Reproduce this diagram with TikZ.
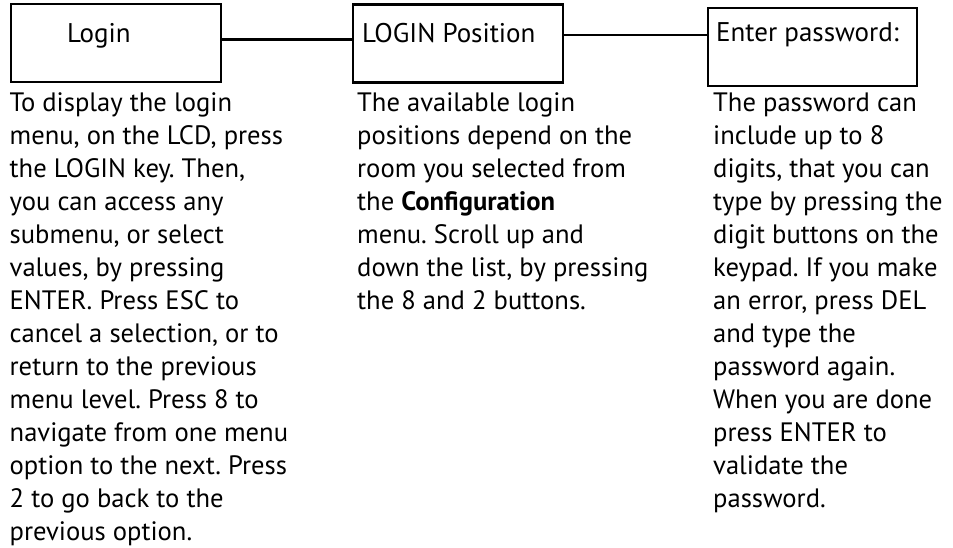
\documentclass[tikz,border=0pt]{standalone}
\usepackage{fontspec}
\setmainfont{PT Sans}
\frenchspacing
\usetikzlibrary{positioning}

\begin{document}
\begin{tikzpicture}[x=1pt, y=-1pt,
    menubox/.style={draw, line width=2.6pt, minimum width=210pt,
        minimum height=78pt, inner sep=0pt},
    boxtitle/.style={anchor=base west, inner sep=0pt,
        font=\fontsize{27}{33}\selectfont},
    helptext/.style={anchor=base west, align=left, inner sep=0pt,
        font=\fontsize{26.6}{33}\selectfont}]
    \useasboundingbox (0,0) rectangle (953,548);

    % the three menu screens
    \node[menubox] (login) at (116,43) {};
    \node[menubox] (position) at (458,43.5) {};
    \node[menubox, minimum width=209pt] (password) at (812.5,47) {};

    \node[boxtitle] (logintitle) at (67,43) {Login};
    \node[boxtitle] (positiontitle) at (362,43) {LOGIN Position};
    \node[boxtitle] (passwordtitle) at (716,42) {Enter password:};

    % links between the screens
    \draw[line width=2.6pt] (login.east) ++(0,-3.5) coordinate (l1)
        -- (l1 -| position.west);
    \draw[line width=2pt] (position.east) ++(0,-8.5) coordinate (l2)
        -- (l2 -| password.west);

    % help text under each screen (placed by the baseline of the last line)
    \node[helptext] (loginhelp) at (9.5,540) {To display the login\\
        menu, on the LCD, press\\ the LOGIN key. Then,\\
        you can access any\\ submenu, or select\\
        values, by pressing\\ ENTER. Press ESC to\\
        cancel a selection, or to\\ return to the previous\\
        menu level. Press 8 to\\ navigate from one menu\\
        option to the next. Press\\ 2 to go back to the\\
        previous option.};
    \node[helptext] (positionhelp) at (357,309) {The available login\\
        positions depend on the\\ room you selected from\\
        the \textbf{Configuration}\\ menu. Scroll up and\\
        down the list, by pressing\\ the 8 and 2 buttons.};
    \node[helptext] (passwordhelp) at (713,507.5) {The password can\\
        include up to 8\\ digits, that you can\\
        type by pressing the\\ digit buttons on the\\
        keypad. If you make\\ an error, press DEL\\
        and type the\\ password again.\\
        When you are done\\ press ENTER to\\
        validate the\\ password.};
\end{tikzpicture}
\end{document}
